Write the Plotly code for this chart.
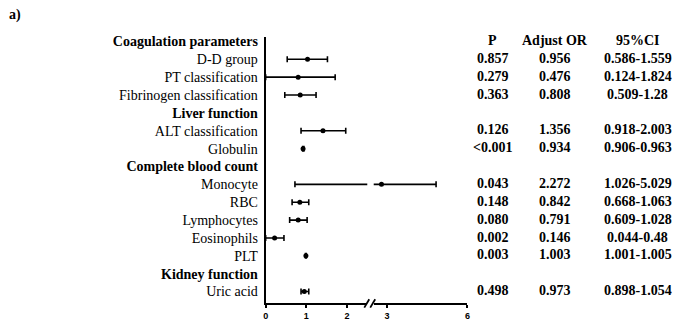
import plotly.graph_objects as go

# ---- data ----
row_labels = ["Coagulation parameters", "D-D group", "PT classification", "Fibrinogen classification",
              "Liver function", "ALT classification", "Globulin",
              "Complete blood count", "Monocyte", "RBC", "Lymphocytes", "Eosinophils", "PLT",
              "Kidney function", "Uric acid"]
is_header = [True, False, False, False, True, False, False, True, False, False, False, False, False, True, False]

# plotted estimates (point, lower, upper); None for header rows
or_pts = [None, 1.03, 0.80, 0.85, None, 1.41, 0.92, None, 2.79, 0.84, 0.80, 0.22, 0.99, None, 0.95]
ci_low = [None, 0.53, 0.00, 0.47, None, 0.87, 0.91, None, 0.72, 0.65, 0.59, 0.00, 0.98, None, 0.87]
ci_high = [None, 1.52, 1.71, 1.24, None, 1.97, 0.94, None, 4.83, 1.06, 1.02, 0.45, 1.00, None, 1.06]

p_text = ["", "0.857", "0.279", "0.363", "", "0.126", "<0.001", "", "0.043", "0.148", "0.080", "0.002", "0.003", "", "0.498"]
or_text = ["", "0.956", "0.476", "0.808", "", "1.356", "0.934", "", "2.272", "0.842", "0.791", "0.146", "1.003", "", "0.973"]
ci_text = ["", "0.586-1.559", "0.124-1.824", "0.509-1.28", "", "0.918-2.003", "0.906-0.963", "",
           "1.026-5.029", "0.668-1.063", "0.609-1.028", "0.044-0.48", "1.001-1.005", "", "0.898-1.054"]
col_headers = ["P", "Adjust OR", "95%CI"]

seg1_ticks = [0, 1, 2]
seg2_ticks = [3, 6]

# ---- build ----
W, H = 684, 330
px = lambda x: x / W
py = lambda y: 1 - y / H

ys, xs, ep, em = [], [], [], []
for i, v in enumerate(or_pts):
    if v is None:
        continue
    ys.append(i)
    xs.append(v)
    ep.append(ci_high[i] - v)
    em.append(v - ci_low[i])

fig = go.Figure()
for xa in ["x", "x2"]:
    fig.add_trace(go.Scatter(
        x=xs, y=ys, mode="markers", xaxis=xa, yaxis="y",
        marker=dict(color="black", size=5),
        error_x=dict(type="data", symmetric=False, array=ep, arrayminus=em,
                     color="black", thickness=1.6, width=3),
        showlegend=False, hoverinfo="skip"))

ticktext = [f"<b>{t}</b>" if h else t for t, h in zip(row_labels, is_header)]

serif = "Liberation Serif, Times New Roman, serif"
tickf = dict(family="Liberation Sans Narrow, Liberation Sans, Arial", size=9, color="black")
fig.update_layout(
    width=W, height=H, margin=dict(l=0, r=0, t=0, b=0),
    paper_bgcolor="white", plot_bgcolor="white",
    xaxis=dict(domain=[px(265), px(367.5)], range=[0, 2.5], anchor="y",
               showline=True, linecolor="black", linewidth=2, showgrid=False, zeroline=False,
               ticks="outside", ticklen=3, tickwidth=1.5, tickcolor="black",
               tickvals=seg1_ticks, ticktext=[f"<b>{t}</b>" for t in seg1_ticks],
               ticklabelstandoff=0, tickfont=tickf),
    xaxis2=dict(domain=[px(374), px(468.5)], range=[2.5, 6], anchor="y",
                showline=True, linecolor="black", linewidth=2, showgrid=False, zeroline=False,
                ticks="outside", ticklen=3, tickwidth=1.5, tickcolor="black",
                tickvals=seg2_ticks, ticktext=[f"<b>{t}</b>" for t in seg2_ticks],
                ticklabelstandoff=0, tickfont=tickf),
    yaxis=dict(domain=[py(303), py(35)], range=[14.65, -0.26], anchor="x",
               showline=True, linecolor="black", linewidth=2, showgrid=False, zeroline=False,
               ticks="", tickvals=list(range(len(row_labels))), ticktext=ticktext,
               ticklabelstandoff=3,
               tickfont=dict(family=serif, size=14, color="black")),
)

# table columns
col_x = [494, 556.5, 640.5]
for cx, head, vals in zip(col_x, col_headers, [p_text, or_text, ci_text]):
    fig.add_annotation(x=px(cx), y=-0.05, xref="paper", yref="y", text=f"<b>{head}</b>",
                       showarrow=False, xanchor="center", yanchor="middle",
                       font=dict(family=serif, size=14, color="black"))
    for i, t in enumerate(vals):
        if t:
            fig.add_annotation(x=px(cx), y=i - 0.05, xref="paper", yref="y", text=f"<b>{t}</b>",
                               showarrow=False, xanchor="center", yanchor="middle",
                               font=dict(family=serif, size=14, color="black"))

# panel label
fig.add_annotation(x=px(4), y=py(13), xref="paper", yref="paper", text="<b>a)</b>",
                   showarrow=False, xanchor="left", yanchor="middle",
                   font=dict(family=serif, size=14, color="black"))

# axis break marks
for x0 in [364.5, 370.5]:
    fig.add_shape(type="line", xref="paper", yref="paper",
                  x0=px(x0), y0=py(307.5), x1=px(x0 + 5), y1=py(299),
                  line=dict(color="black", width=1.8))

fig.write_html("out.html", config={"displayModeBar": False},
               post_script="document.body.style.margin='0';document.body.style.overflow='hidden';")
